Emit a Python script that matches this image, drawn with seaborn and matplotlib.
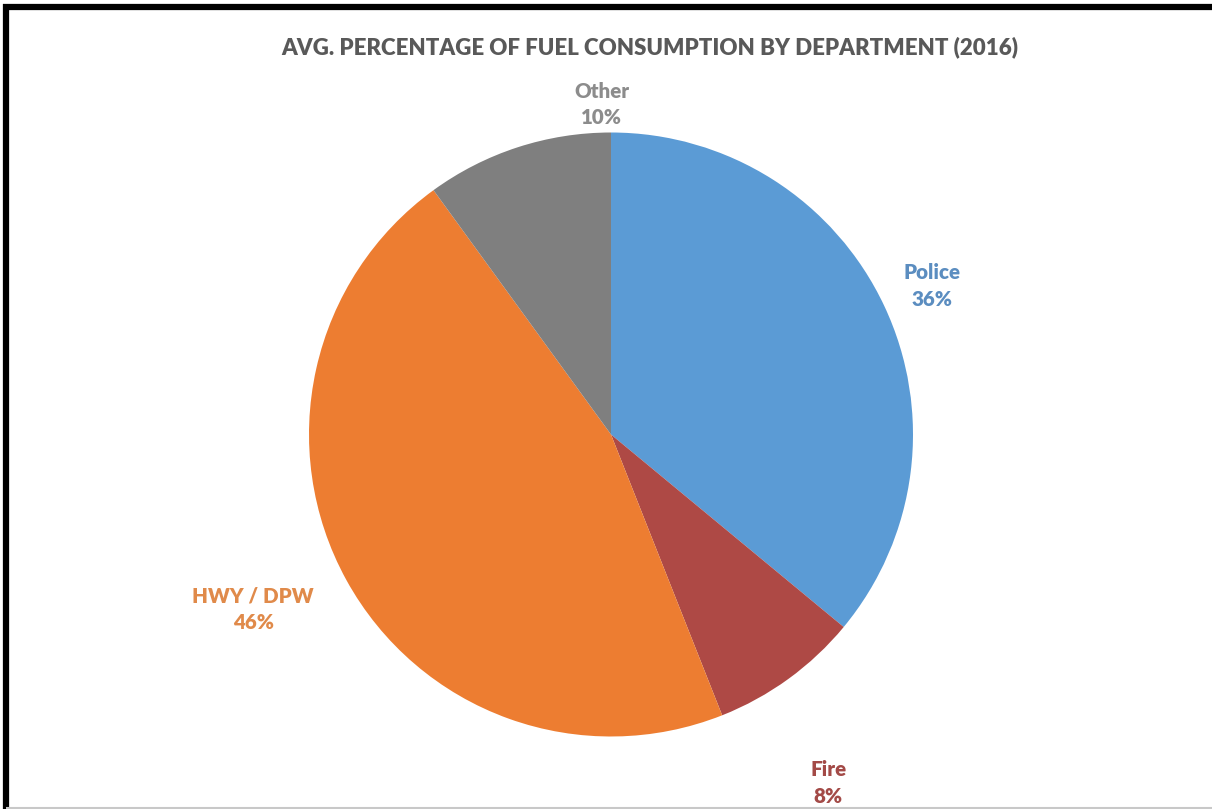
import matplotlib
matplotlib.use("Agg")
import matplotlib.pyplot as plt
from matplotlib.lines import Line2D
import seaborn as sns

# Fuel consumption share by department
departments = ["Police", "Fire", "HWY / DPW", "Other"]
shares = [36, 8, 46, 10]
slice_colors = ["#5B9BD5", "#AE4945", "#ED7D31", "#7F7F7F"]

# label anchor points, in units of the pie radius
label_xy = [(1.063, 0.492), (0.719, -1.154), (-1.185, -0.578), (-0.030, 1.094)]
label_colors = ["#5B8DC0", "#A34A47", "#E08A4A", "#8C8C8C"]

sns.set_theme(style="white")
plt.rcParams["font.family"] = ["Lato", "DejaVu Sans"]

W, H = 1212, 809
fig = plt.figure(figsize=(W / 100, H / 100), dpi=100)
fig.patch.set_facecolor("white")

cx, cy, r = 611, 434.5, 302
ax = fig.add_axes([(cx - r) / W, (H - cy - r) / H, 2 * r / W, 2 * r / H])
ax.pie(shares, colors=sns.color_palette(slice_colors), startangle=90,
       counterclock=False, radius=1.0,
       wedgeprops=dict(linewidth=0))
ax.set_xlim(-1, 1)
ax.set_ylim(-1, 1)
ax.set_aspect("equal")
ax.axis("off")

for name, val, (lx, ly), col in zip(departments, shares, label_xy, label_colors):
    ax.text(lx, ly, f"{name}\n{val}%", ha="center", va="center",
            fontsize=14.8, fontweight="heavy", color=col, linespacing=1.45,
            clip_on=False)

fig.text(650 / W, 1 - 47 / H,
         "AVG. PERCENTAGE OF FUEL CONSUMPTION BY DEPARTMENT (2016)",
         ha="center", va="center", fontsize=16, fontweight="heavy",
         color="#595959")

# frame lines around the chart
fig.add_artist(Line2D([3 / W, 1], [1 - 7 / H, 1 - 7 / H], color="black",
                      linewidth=4.5, solid_capstyle="butt",
                      transform=fig.transFigure))
fig.add_artist(Line2D([6 / W, 6 / W], [0, 1 - 4 / H], color="black",
                      linewidth=4.5, solid_capstyle="butt",
                      transform=fig.transFigure))
fig.add_artist(Line2D([6 / W, 1], [1.5 / H, 1.5 / H], color="#C8C8C8",
                      linewidth=1.5, solid_capstyle="butt",
                      transform=fig.transFigure))

fig.savefig("out.png", dpi=100, facecolor="white")
